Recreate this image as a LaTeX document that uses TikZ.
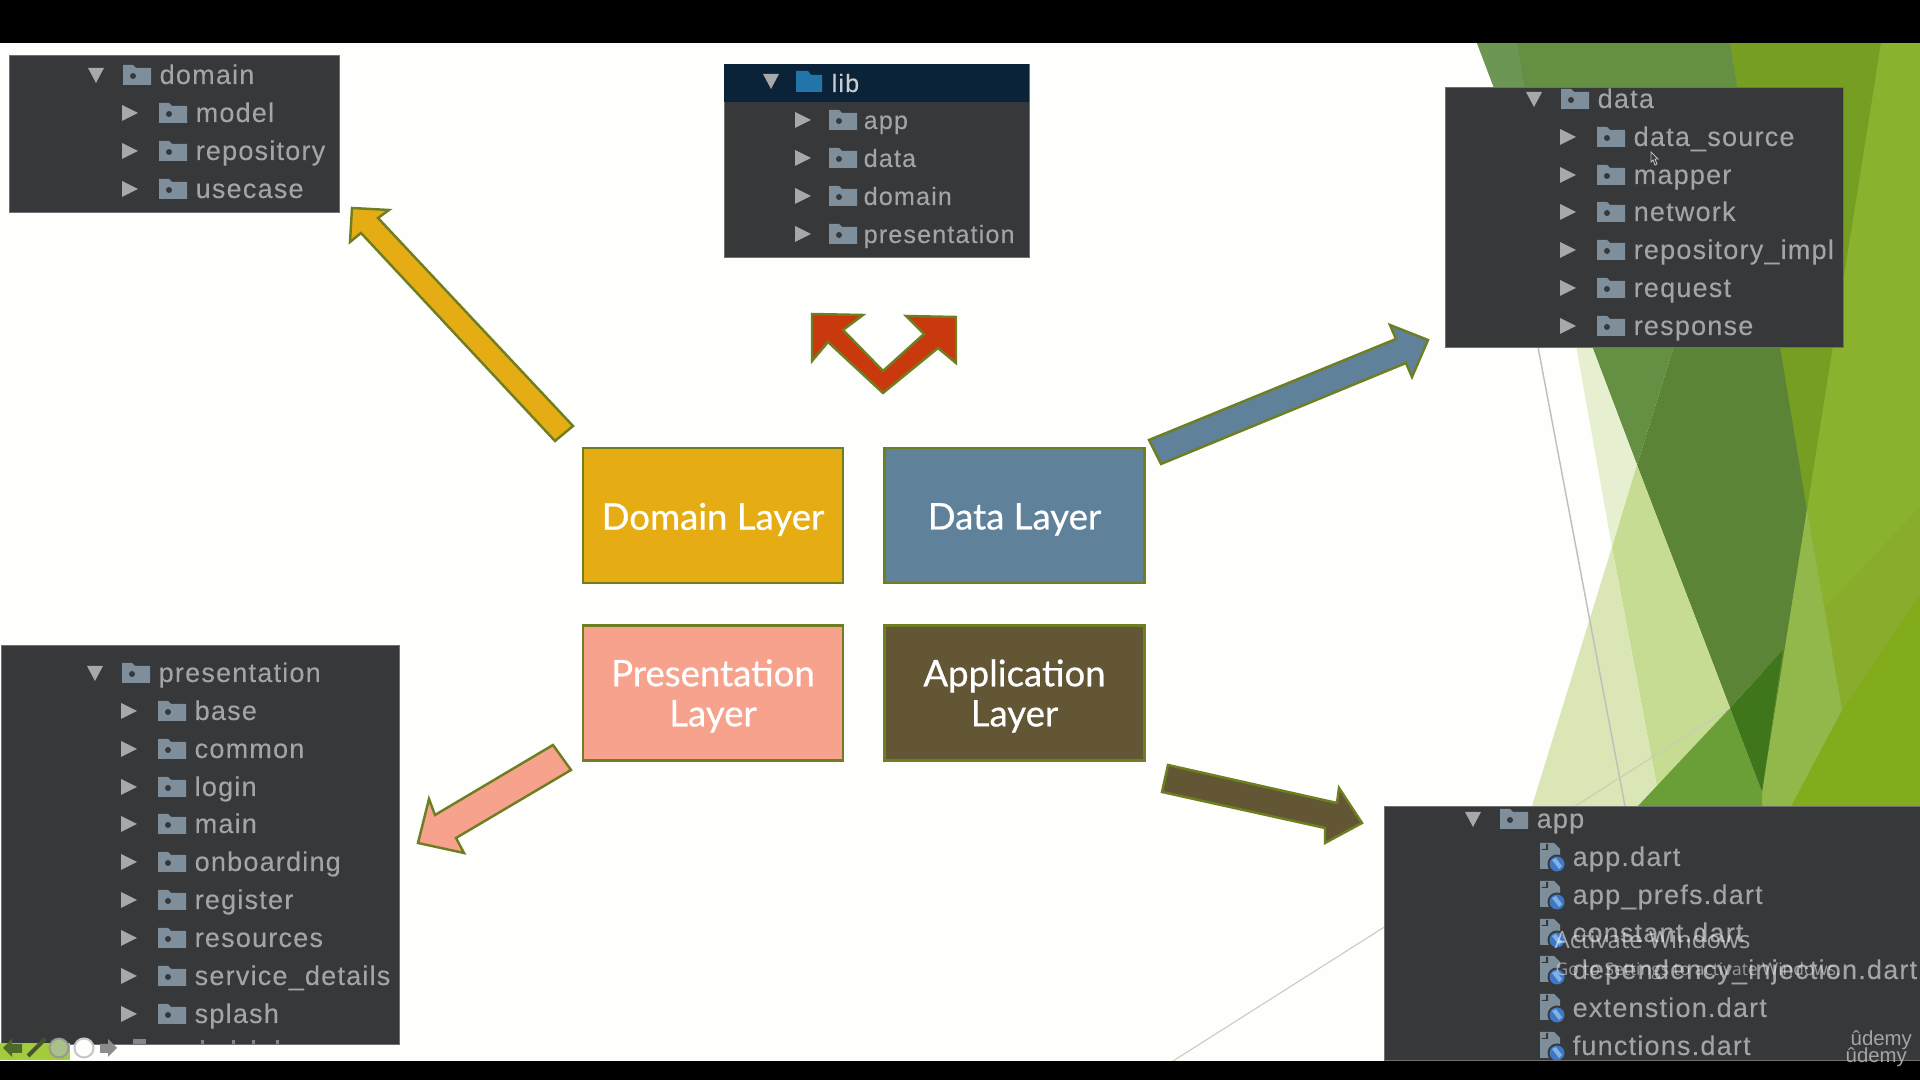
\documentclass[tikz,border=0pt]{standalone}
\usepackage{fontspec}
\setmainfont{Liberation Sans}
\newfontfamily\treefont[LetterSpace=4.5,FakeBold=0.15]{Liberation Sans}
\newfontfamily\boxfont[FakeBold=0.6]{Lato}
\newfontfamily\winfont{Open Sans}
\definecolor{pagew}{HTML}{FEFEFC}
\definecolor{panelc}{HTML}{36383A}
\definecolor{panele}{HTML}{6E7072}
\definecolor{treetxt}{HTML}{A2A4A6}
\definecolor{foldc}{HTML}{7E8E9B}
\definecolor{tric}{HTML}{A6A8AA}
\definecolor{edgec}{HTML}{6E7F22}
\definecolor{yelc}{HTML}{E6AC14}
\definecolor{bluc}{HTML}{5F8199}
\definecolor{salc}{HTML}{F7A28C}
\definecolor{brnc}{HTML}{635634}
\definecolor{redc}{HTML}{C9390D}
\definecolor{gA}{HTML}{6B9654}
\definecolor{gB}{HTML}{658F42}
\definecolor{gC}{HTML}{5C8436}
\definecolor{gD}{HTML}{759E23}
\definecolor{gE}{HTML}{8AB22F}
\definecolor{gF}{HTML}{8AAC2C}
\definecolor{gG}{HTML}{83AC1C}
\definecolor{gH}{HTML}{92B84C}
\definecolor{gI}{HTML}{E6EFCF}
\definecolor{gJ}{HTML}{C7DC93}
\definecolor{gK}{HTML}{DAE6B5}
\definecolor{gL}{HTML}{6A9E37}
\definecolor{gM}{HTML}{3F751B}
\definecolor{lineA}{HTML}{BEBEBE}
\definecolor{lineB}{HTML}{C8CDB4}
\definecolor{libhead}{HTML}{0B2339}
\definecolor{libblue}{HTML}{2374A8}
\definecolor{libtxt}{HTML}{C8CCD0}
\definecolor{dartA}{HTML}{3E78C4}
\definecolor{dartB}{HTML}{82AFE6}
\definecolor{tbgreen}{HTML}{A3CC3C}
\definecolor{tbdark}{HTML}{506928}
\definecolor{tbpen}{HTML}{46552D}
\definecolor{tbgrey}{HTML}{969696}
\definecolor{tbfill}{HTML}{A9C088}
\definecolor{tblight}{HTML}{C8C8C8}
\definecolor{tbarrow}{HTML}{8C8C8C}
\tikzset{
  panel/.style={fill=panelc,draw=panele,line width=0.2pt},
  treetext/.style={anchor=base west,inner sep=0pt,text=treetxt,font=\treefont\fontsize{7.68pt}{9pt}\selectfont},
  libtext/.style={treetext,font=\treefont\fontsize{7.15pt}{9pt}\selectfont},
  layerbox/.style={rectangle,draw=edgec,line width=0.7pt,minimum width=2.6cm,minimum height=1.35cm,inner sep=0pt},
  layertext/.style={inner sep=0pt,text=white,align=center,font=\boxfont\fontsize{10.4pt}{11.4pt}\selectfont},
  blockarrow/.style={draw=edgec,line width=0.7pt,line join=miter},
  folderpic/.pic={
    \fill[foldc] (-14,-10)--(-4,-10)--(-1,-7)--(14,-7)--(14,10)--(-14,10)--cycle;
    \fill[panelc] (-4,1) circle (3);
  },
  triright/.pic={\fill[tric] (-8,-8)--(8,0)--(-8,8)--cycle;},
  tridown/.pic={\fill[tric] (-8,-7)--(8,-7)--(0,8)--cycle;},
  dartfile/.pic={
    \fill[foldc] (-11,-14)--(3,-14)--(9,-8)--(9,12)--(-11,12)--cycle;
    \fill[panelc] (-3,-13)--(-3,-7)--(-10,-7)--(-8,-8)--(-5,-8)--(-5,-13)--cycle;
    \fill[panelc] (6,7) circle (9.5);
    \fill[dartA] (6,7) circle (7.5);
    \fill[dartB] (1,3) -- (5,1) -- (11,9) -- (8,12) -- cycle;
  }
}
\newcommand{\mainrow}[3]{% name, y, text
  \pic at (\trix,#2) {tridown};
  \pic at (\trix+41,#2) {folderpic};
  \node[treetext] (#1) at (\trix+63,#2+9) {#3};
}
\newcommand{\subrow}[3]{%
  \pic at (\subx,#2) {triright};
  \pic at (\subx+43,#2) {folderpic};
  \node[treetext] (#1) at (\subx+65,#2+9) {#3};
}
\newcommand{\librow}[3]{%
  \pic at (\subx,#2) {triright};
  \pic at (\subx+40,#2) {folderpic};
  \node[libtext] (#1) at (\subx+60,#2+9) {#3};
}
\newcommand{\filerow}[3]{%
  \pic at (1551,#2) {dartfile};
  \node[treetext] (#1) at (1572,#2+9) {#3};
}
\begin{document}
\begin{tikzpicture}[x=0.01cm,y=-0.01cm]
\clip (0,0) rectangle (1920,1080);
\fill[pagew] (0,0) rectangle (1920,1080);
% ---- green background facets
\fill[gE] (1762,43) rectangle (1920,806);
\fill[gB] (1477,43)--(1768,43)--(1637,465)--cycle;
\fill[gA] (1477,43)--(1517,43)--(1560,300)--(1562,267)--cycle;
\fill[gC] (1768,43)--(1881,43)--(1762,792)--(1783,650)--(1730,708)--(1637,465)--cycle;
\fill[gB] (1710,43)--(1768,43)--(1750,100)--cycle;
\fill[gD] (1730,43)--(1881,43)--(1807,510)--cycle;
\fill[gE] (1881,43)--(1920,43)--(1920,507)--(1825,607)--(1807,510)--cycle;
\fill[gF] (1920,507)--(1920,593)--(1842,710)--(1825,607)--cycle;
\fill[gG] (1920,593)--(1920,806)--(1791,806)--(1842,710)--cycle;
\fill[gH] (1807,510)--(1842,710)--(1791,806)--(1762,806)--(1762,792)--cycle;
\fill[gI] (1562,267)--(1637,465)--(1612,547)--cycle;
\fill[gJ] (1637,465)--(1730,708)--(1657,787)--(1612,547)--cycle;
\fill[gK] (1612,547)--(1657,787)--(1638,806)--(1532,806)--cycle;
\fill[gL] (1730,708)--(1762,792)--(1762,806)--(1638,806)--cycle;
\fill[gM] (1730,708)--(1783,650)--(1762,792)--cycle;
% thin lines
\draw[lineA,line width=0.4pt] (1538,347)--(1625,806);
\draw[lineB,line width=0.3pt] (1730,708)--(1173,1061);
% ---- bars
\fill[black] (0,0) rectangle (1920,43);
\fill[black] (0,1061) rectangle (1920,1080);
% ---- domain panel
\path[panel] (9,55) rectangle (339,212);
\def\trix{96}\def\subx{130}
\mainrow{tdomain}{75}{domain}
\subrow{tmodel}{113}{model}
\subrow{trepo}{151}{repository}
\subrow{tusecase}{189}{usecase}
% ---- lib panel
\path[panel] (724,64) rectangle (1029,257);
\fill[libhead] (724,64) rectangle (1029,102);
\pic at (771,81) {tridown};
\fill[libblue] (796,71)--(808,71)--(811,75)--(822,75)--(822,92)--(796,92)--cycle;
\node[libtext,text=libtxt] (tlib) at (831,92) {lib};
\def\subx{803}
\librow{lapp}{120}{app}
\librow{ldata}{158}{data}
\librow{ldomain}{196}{domain}
\librow{lpres}{234}{presentation}
% ---- data panel
\path[panel] (1445,87) rectangle (1843,347);
\begin{scope}
\clip (1445,87) rectangle (1843,347);
\def\trix{1534}
\mainrow{tdata}{99}{data}
\end{scope}
\def\subx{1568}
\subrow{dsource}{137}{data\_source}
\subrow{dmapper}{175}{mapper}
\subrow{dnetwork}{212}{network}
\subrow{dimpl}{250}{repository\_impl}
\subrow{drequest}{288}{request}
\subrow{dresponse}{326}{response}
\draw[lineA,line width=0.25pt] (1651,152)--(1651,162)--(1653,160)--(1655,165)--(1657,164)--(1655,159)--(1658,159)--cycle;
% ---- presentation panel
\path[panel] (1,645) rectangle (399,1044);
\def\trix{95}\def\subx{129}
\mainrow{tpres}{673}{presentation}
\subrow{pbase}{711}{base}
\subrow{pcommon}{749}{common}
\subrow{plogin}{787}{login}
\subrow{pmain}{824}{main}
\subrow{ponb}{862}{onboarding}
\subrow{preg}{900}{register}
\subrow{pres}{938}{resources}
\subrow{pserv}{976}{service\_details}
\subrow{psplash}{1014}{splash}
\fill[tric!70!panelc] (133,1039) rectangle (146,1044);
\foreach \fx in {201,232,252,276}{\fill[treetxt!70!panelc] (\fx,1040) rectangle (\fx+3,1044);}
% ---- app panel
\path[panel] (1384,806) rectangle (1925,1060);
\begin{scope}
\clip (1384,806) rectangle (1925,1060);
\def\trix{1473}
\mainrow{tapp}{819}{app}
\filerow{fapp}{857}{app.dart}
\filerow{fprefs}{895}{app\_prefs.dart}
\filerow{fconst}{933}{constant.dart}
\filerow{fdep}{970}{dependency\_injection.dart}
\filerow{fext}{1008}{extenstion.dart}
\filerow{ffun}{1046}{functions.dart}
\end{scope}
% ---- layer boxes
\node[layerbox,fill=yelc] (domain) at (713,515.5) {};
\node[layerbox,fill=bluc] (data) at (1014.5,515.5) {};
\node[layerbox,fill=salc] (pres) at (713,693) {};
\node[layerbox,fill=brnc] (appl) at (1014.5,693) {};
\node[layertext] (domaint) at ([yshift=-0.04cm]domain.center) {Domain Layer};
\node[layertext] (datat) at ([yshift=-0.04cm]data.center) {Data Layer};
\node[layertext] (prest) at ([yshift=-0.03cm]pres.center) {Presentation\\Layer};
\node[layertext] (applt) at ([yshift=-0.03cm]appl.center) {Application\\Layer};
% ---- block arrows
\path[blockarrow,fill=yelc] (573,426)--(378,218)--(389,210)--(352,208)--(350,242)--(361,233)--(555,441)--cycle;
\path[blockarrow,fill=bluc] (1149,440)--(1396,339)--(1390,325)--(1428,340)--(1412,377)--(1406,363)--(1161,464)--cycle;
\path[blockarrow,fill=salc] (553,745)--(435,815)--(429,799)--(418,843)--(464,853)--(456,838)--(571,770)--cycle;
\path[blockarrow,fill=brnc] (1168,765)--(1337,803)--(1339,788)--(1362,823)--(1325,843)--(1325,828)--(1162,792)--cycle;
\path[blockarrow,fill=redc] (812,314)--(863,315)--(843,330)--(883,371)--(924,334)--(906,316)--(956,317)--(956,363)--(938,348)--(883,393)--(828,342)--(812,361)--cycle;
% ---- watermark
\node[anchor=base west,inner sep=0pt,text=white,text opacity=0.55,font=\winfont\fontsize{6.8pt}{8pt}\selectfont] (wm1) at (1554,949) {Activate Windows};
\node[anchor=base west,inner sep=0pt,text=white,text opacity=0.5,font=\winfont\fontsize{4.95pt}{6pt}\selectfont] (wm2) at (1555,976) {Go to Settings to activate Windows.};
\node[anchor=base west,inner sep=0pt,text=treetxt,font=\fontsize{5.8pt}{7pt}\selectfont] (ud1) at (1850,1046) {ûdemy};
\node[anchor=base west,inner sep=0pt,text=treetxt,font=\fontsize{5.8pt}{7pt}\selectfont] (ud2) at (1845,1063) {ûdemy};
% ---- slideshow toolbar
\fill[tbgreen] (0,1043) rectangle (70,1060);
\fill[tbdark] (3,1048)--(12,1039)--(12,1044)--(22,1044)--(22,1053)--(12,1053)--(12,1057)--cycle;
\draw[tbpen,line width=1.2pt] (28,1056)--(45,1039);
\draw[tbgrey,line width=0.5pt,fill=tbfill] (59,1048) circle (9.5);
\draw[tblight,line width=0.6pt,fill=pagew] (84,1048) circle (9.5);
\fill[tbarrow] (117,1048)--(108,1039)--(108,1044)--(100,1044)--(100,1053)--(108,1053)--(108,1057)--cycle;
\end{tikzpicture}
\end{document}
